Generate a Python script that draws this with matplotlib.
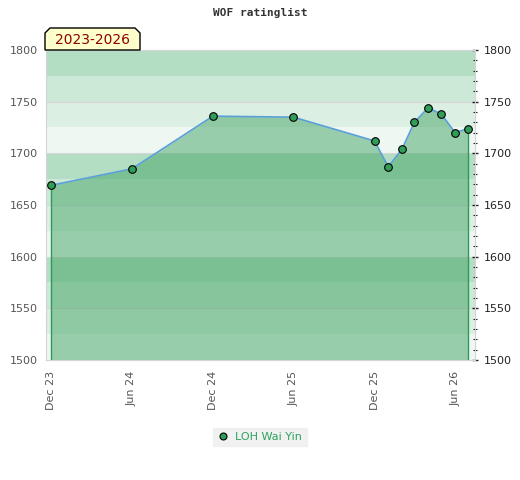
import datetime as dt
import matplotlib
matplotlib.use("Agg")
import matplotlib.pyplot as plt
import matplotlib.dates as mdates
from matplotlib.patches import Polygon
from matplotlib.lines import Line2D

title = "WOF ratinglist"
period = "2023-2026"
player = "LOH Wai Yin"

dates = ["2023-12-01", "2024-06-01", "2024-12-01", "2025-06-01", "2025-12-01",
         "2026-01-01", "2026-02-01", "2026-03-01", "2026-04-01", "2026-05-01",
         "2026-06-01", "2026-07-01"]
ratings = [1669, 1685, 1736, 1735, 1712, 1687, 1704, 1730, 1744, 1738, 1720, 1724]

tick_dates = ["2023-12-01", "2024-06-01", "2024-12-01", "2025-06-01", "2025-12-01", "2026-06-01"]
tick_labels = ["Dec 23", "Jun 24", "Dec 24", "Jun 25", "Dec 25", "Jun 26"]

band_colors = ["#eff7f2", "#dcefe3", "#cce8d6", "#b3dec3"]  # bottom to top within each 100

x = [dt.datetime.strptime(d, "%Y-%m-%d") for d in dates]
xt = [dt.datetime.strptime(d, "%Y-%m-%d") for d in tick_dates]

fig = plt.figure(figsize=(5.2, 4.8), dpi=100)
ax = fig.add_axes([46 / 520, 1 - 360 / 480, 429 / 520, 310 / 480])

ymin, ymax = 1500, 1800
for i, lo in enumerate(range(ymin, ymax, 25)):
    ax.axhspan(lo, lo + 25, color=band_colors[i % 4], lw=0, zorder=0)
for g in range(ymin, ymax + 1, 50):
    ax.axhline(g, color="#d6d6d6", lw=0.8, zorder=0.5)

ax.fill_between(x, ratings, ymin, color=(67 / 255, 164 / 255, 101 / 255), alpha=0.5, lw=0, zorder=1)
ax.vlines([x[0], x[-1]], ymin, [ratings[0], ratings[-1]], color="#2e9a55", lw=1, zorder=2)
ax.plot(x, ratings, color="#5b9fd8", lw=1.2, zorder=3)
ax.plot(x, ratings, "o", ms=5.5, mfc="#2f9e58", mec="black", mew=0.8, zorder=4)

ax.set_ylim(ymin, ymax)
ax.set_xlim(dt.datetime(2023, 11, 20), dt.datetime(2026, 7, 16))
ax.set_xticks(xt)
ax.set_xticklabels(tick_labels, rotation=90, fontsize=8, color="#555555")
ax.set_yticks(range(ymin, ymax + 1, 50))
ax.tick_params(axis="x", length=0, pad=8)
ax.tick_params(axis="y", left=False, labelleft=True, labelright=True, right=True,
               direction="inout", length=4, width=1, color="#222222", labelsize=8, pad=4)
for lbl in ax.get_yticklabels():
    lbl.set_color("#555555")
ax.set_yticks(range(ymin, ymax + 1, 10), minor=True)
ax.tick_params(axis="y", which="minor", left=False, right=True, direction="inout",
               length=3, width=0.8, color="#222222")
for lbl in ax.yaxis.get_ticklabels(which="major"):
    pass
for t in ax.yaxis.get_major_ticks():
    t.label2.set_color("#222222")
for s in ax.spines.values():
    s.set_color("#d4d4d4")

fig.text(0.5, 1 - 13 / 480, title, ha="center", va="center",
         family="DejaVu Sans Mono", fontweight="bold", fontsize=8, color="#333333")

# period label box with chamfered top corners
x0, x1, yt, yb, c = 45, 140, 28, 50, 5
pts = [(x0, yb), (x0, yt + c), (x0 + c, yt), (x1 - c, yt), (x1, yt + c), (x1, yb)]
pts = [(px / 520, 1 - py / 480) for px, py in pts]
fig.patches.append(Polygon(pts, closed=True, transform=fig.transFigure,
                           fc="#ffffcc", ec="black", lw=1, zorder=5))
fig.text((x0 + x1) / 2 / 520, 1 - 40 / 480, period, ha="center", va="center",
         fontsize=10, color="#8b0000", zorder=6)

handle = Line2D([], [], ls="none", marker="o", ms=5, mfc="#2f9e58", mec="black", mew=0.8)
leg = fig.legend([handle], [player], loc="center", bbox_to_anchor=(260 / 520, 1 - 437 / 480),
                 frameon=True, fontsize=8, handlelength=1, handletextpad=0.6,
                 borderpad=0.4, fancybox=False)
leg.get_frame().set_facecolor("#eeeeee")
leg.get_frame().set_edgecolor("#eeeeee")
for t in leg.get_texts():
    t.set_color("#2ca25f")

fig.savefig("out.png", dpi=100)
